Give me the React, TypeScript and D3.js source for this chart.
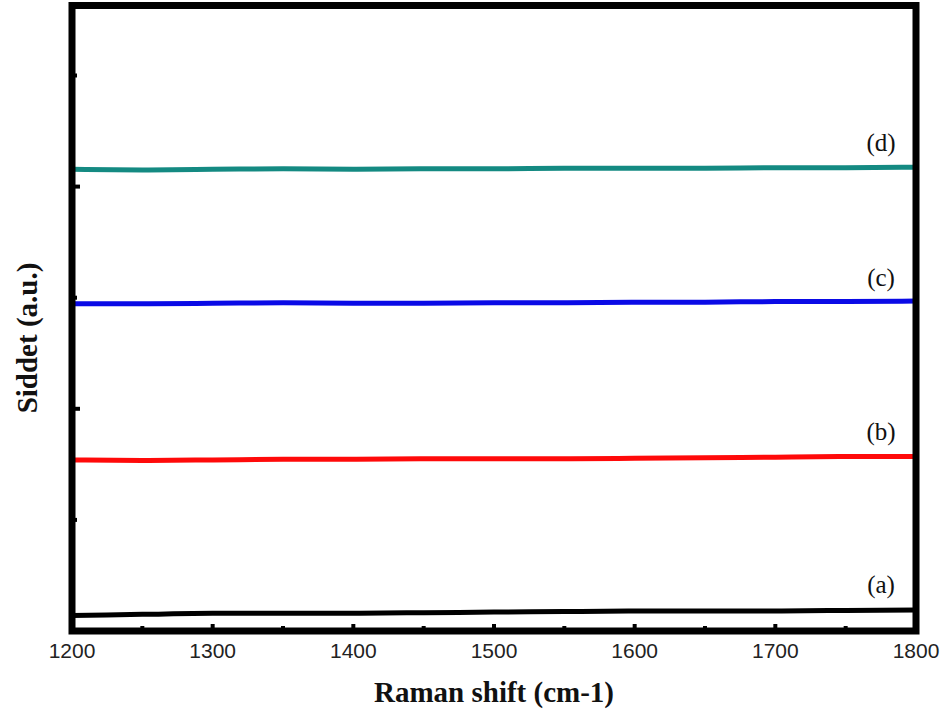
import React from "react";
import * as d3 from "d3";

const xValues = [1200, 1250, 1300, 1350, 1400, 1450, 1500, 1550, 1600, 1650, 1700, 1750, 1800];
const seriesA = [0.14, 0.15, 0.16, 0.16, 0.16, 0.165, 0.17, 0.175, 0.18, 0.18, 0.18, 0.185, 0.19];
const seriesB = [1.54, 1.535, 1.54, 1.545, 1.545, 1.55, 1.55, 1.55, 1.555, 1.56, 1.565, 1.57, 1.57];
const seriesC = [2.945, 2.945, 2.95, 2.955, 2.95, 2.95, 2.955, 2.955, 2.96, 2.96, 2.965, 2.965, 2.97];
const seriesD = [4.155, 4.15, 4.155, 4.16, 4.155, 4.16, 4.16, 4.165, 4.165, 4.165, 4.17, 4.17, 4.175];
const seriesNames = ["(a)", "(b)", "(c)", "(d)"];
const seriesColors = ["#000000", "#ff0a0a", "#0a0ae6", "#148a82"];
const xTicks = [1200, 1300, 1400, 1500, 1600, 1700, 1800];
const xMinorTicks = [1250, 1350, 1450, 1550, 1650, 1750];
const yTicks = [1, 2, 3, 4, 5];

export default function App() {
  const W = 949, H = 713;
  const left = 72, right = 916, top = 5.5, bottom = 631;
  const x = d3.scaleLinear().domain([1200, 1800]).range([left, right]);
  const y = d3.scaleLinear().domain([0, 5.63]).range([bottom, top]);
  const all = [seriesA, seriesB, seriesC, seriesD];
  const line = d3.line<number>().x((_, i) => x(xValues[i])).y((v) => y(v)).curve(d3.curveMonotoneX);
  const labelOffset = [17, 17, 15, 16];

  return (
    <svg width={W} height={H} style={{ position: "absolute", left: 0, top: 0, background: "#fff" }}>
      <rect width={W} height={H} fill="#fff" />
      {all.map((s, i) => (
        <path key={i} d={line(s) || ""} fill="none" stroke={seriesColors[i]} strokeWidth={5} />
      ))}
      {all.map((s, i) => (
        <text key={"l" + i} x={881} y={y(s[s.length - 1]) - labelOffset[i]} textAnchor="middle"
          fontFamily="Liberation Serif, serif" fontSize={25} fill="#111">{seriesNames[i]}</text>
      ))}
      {xTicks.map((t) => (
        <line key={"xt" + t} x1={x(t)} x2={x(t)} y1={bottom} y2={bottom - 7} stroke="#000" strokeWidth={4} />
      ))}
      {xMinorTicks.map((t) => (
        <line key={"xm" + t} x1={x(t)} x2={x(t)} y1={bottom} y2={bottom - 5} stroke="#000" strokeWidth={4} />
      ))}
      {yTicks.map((t) => (
        <line key={"yt" + t} x1={left} x2={left + (t % 2 === 0 ? 8 : 5)} y1={y(t)} y2={y(t)} stroke="#000" strokeWidth={4} />
      ))}
      <rect x={left} y={top} width={right - left} height={bottom - top} fill="none" stroke="#000" strokeWidth={7} />
      {xTicks.map((t) => (
        <text key={"xl" + t} x={x(t)} y={658} textAnchor="middle" fontFamily="Liberation Sans, Arial, sans-serif"
          fontSize={21} fill="#222">{t}</text>
      ))}
      <text x={494} y={702} textAnchor="middle" fontFamily="Liberation Serif, serif" fontWeight="bold" fontSize={29} fill="#111">
        Raman shift (cm-1)
      </text>
      <text transform="translate(37,338) rotate(-90)" textAnchor="middle" fontFamily="Liberation Serif, serif"
        fontWeight="bold" fontSize={29} fill="#111">Siddet (a.u.)</text>
    </svg>
  );
}
